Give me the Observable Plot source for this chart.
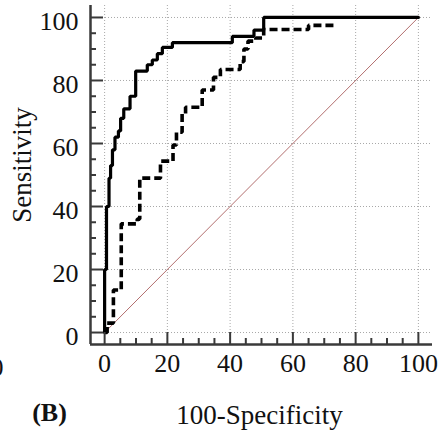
<!DOCTYPE html>
<html>
<head>
<meta charset="utf-8">
<script src="https://cdn.jsdelivr.net/npm/d3@7"></script>
<script src="https://cdn.jsdelivr.net/npm/@observablehq/plot@0.6"></script>
<style>
  html, body { margin: 0; padding: 0; background: #fff; overflow: hidden; }
  svg { overflow: visible; }
</style>
</head>
<body>
<div id="chart"></div>
<script>
// ROC curve vertices (100-Specificity, Sensitivity)
const solidFPR = [0, 0, 0.6, 0.6, 1.4, 1.4, 1.9, 1.9, 2.5, 2.5, 3.3, 3.3, 4.4, 4.4, 5.1, 5.1, 6.1, 6.1, 8.1, 8.1, 9.9, 9.9, 13.6, 13.6, 15.2, 15.2, 16.8, 16.8, 18.4, 18.4, 21.6, 21.6, 40.7, 40.7, 47.6, 47.6, 50.7, 50.7, 100];
const solidTPR = [0, 20, 20, 40, 40, 49, 49, 53, 53, 58, 58, 62, 62, 64, 64, 68, 68, 71, 71, 75, 75, 83, 83, 85, 85, 86.5, 86.5, 88.5, 88.5, 90.5, 90.5, 92, 92, 94, 94, 96, 96, 100, 100];

const dashedFPR = [0, 0.8, 0.8, 2.8, 2.8, 5.3, 5.3, 10.4, 10.4, 11.2, 11.2, 17.8, 17.8, 21.8, 21.8, 22.9, 22.9, 24.7, 24.7, 25.8, 25.8, 31.1, 31.1, 34.7, 34.7, 36.9, 36.9, 43.2, 43.2, 44.4, 44.4, 45.7, 45.7, 48.2, 48.2, 50.7, 50.7, 65, 65, 73];
const dashedTPR = [0, 0, 3, 3, 13.5, 13.5, 34.5, 34.5, 36, 36, 49, 49, 54.4, 54.4, 59.5, 59.5, 63.6, 63.6, 69.5, 69.5, 71.5, 71.5, 77, 77, 81, 81, 83.5, 83.5, 86, 86, 90, 90, 92.5, 92.5, 93.5, 93.5, 96.2, 96.2, 97.5, 97.5];

const chanceFPR = [0, 100];
const chanceTPR = [0, 100];

const majorTicks = [0, 20, 40, 60, 80, 100];
const minorTicks = [5, 10, 15, 25, 30, 35, 45, 50, 55, 65, 70, 75, 85, 90, 95];

const xLabel = "100-Specificity";
const yLabel = "Sensitivity";
const panelLabel = "(B)";
const neighbourLabel = "100";

const solid = d3.zip(solidFPR, solidTPR).map(([x, y]) => ({x, y}));
const dashed = d3.zip(dashedFPR, dashedTPR).map(([x, y]) => ({x, y}));
const chance = d3.zip(chanceFPR, chanceTPR).map(([x, y]) => ({x, y}));

const W = 441, H = 444;
const mL = 90, mR = 9, mT = 5, mB = 100;
const frameW = W - mL - mR, frameH = H - mT - mB;
const font = "Liberation Serif, 'Times New Roman', serif";
const axisColor = "#3a3a3a";
const gridColor = "#a8a8a8";

const chart = Plot.plot({
  width: W,
  height: H,
  marginLeft: mL,
  marginRight: mR,
  marginTop: mT,
  marginBottom: mB,
  style: {fontFamily: font, fontSize: "26px", color: "#111", background: "#fff"},
  x: {domain: [-4.5, 104.5], axis: null},
  y: {domain: [-3.8, 103.8], axis: null},
  marks: [
    // dotted grid
    Plot.ruleX(majorTicks, {x: d => d, stroke: gridColor, strokeWidth: 1, strokeDasharray: "1,2"}),
    Plot.ruleY(majorTicks, {y: d => d, stroke: gridColor, strokeWidth: 1, strokeDasharray: "1,2"}),
    // chance diagonal
    Plot.line(chance, {x: "x", y: "y", stroke: "#b36f6f", strokeWidth: 1}),
    // ROC curves
    Plot.line(dashed, {x: "x", y: "y", stroke: "#000", strokeWidth: 3.6, strokeDasharray: "8,4", strokeLinejoin: "miter", strokeLinecap: "butt"}),
    Plot.line(solid, {x: "x", y: "y", stroke: "#000", strokeWidth: 3.2, strokeLinejoin: "miter"}),
    // axis lines
    Plot.ruleX([-4.5], {x: d => d, stroke: axisColor, strokeWidth: 2.5}),
    Plot.ruleY([-3.8], {y: d => d, stroke: axisColor, strokeWidth: 2.5}),
    // inward ticks
    Plot.ruleX(majorTicks, {x: d => d, stroke: axisColor, strokeWidth: 2, insetTop: frameH - 12}),
    Plot.ruleX(minorTicks, {x: d => d, stroke: axisColor, strokeWidth: 2, insetTop: frameH - 6}),
    Plot.ruleY(majorTicks, {y: d => d, stroke: axisColor, strokeWidth: 2, insetRight: frameW - 13}),
    Plot.ruleY(minorTicks, {y: d => d, stroke: axisColor, strokeWidth: 2, insetRight: frameW - 6}),
    // tick labels
    Plot.axisX(majorTicks, {anchor: "bottom", tickSize: 0, tickPadding: 9, fontSize: 26, fill: "#111", label: null}),
    Plot.axisY(majorTicks, {anchor: "left", tickSize: 0, tickPadding: 12, fontSize: 26, fill: "#111", label: null, dy: 4}),
    // titles
    Plot.text([xLabel], {frameAnchor: "bottom", text: d => d, dx: -2, dy: 71, fontSize: 27, fill: "#111", textAnchor: "middle", lineAnchor: "middle"}),
    Plot.text([yLabel], {frameAnchor: "left", text: d => d, dx: -68, dy: -10, rotate: -90, fontSize: 27, fill: "#111", textAnchor: "middle", lineAnchor: "middle"}),
    Plot.text([panelLabel], {frameAnchor: "bottom-left", text: d => d, dx: -41, dy: 68, fontSize: 26, fontWeight: "bold", fill: "#111", textAnchor: "middle", lineAnchor: "middle"}),
    Plot.text([neighbourLabel], {frameAnchor: "bottom-left", text: d => d, dx: -87, dy: 23, fontSize: 26, fill: "#111", textAnchor: "end", lineAnchor: "middle"})
  ]
});
document.getElementById("chart").appendChild(chart);
</script>
</body>
</html>
